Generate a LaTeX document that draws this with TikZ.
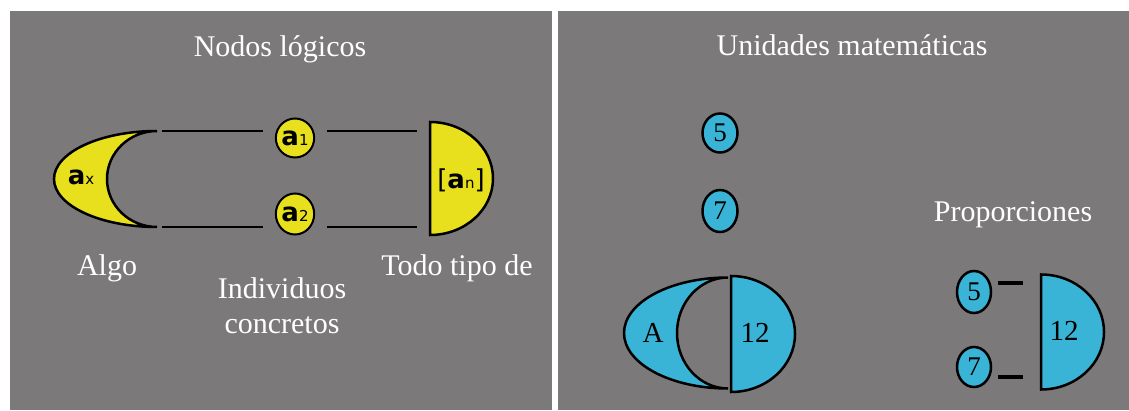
\documentclass[tikz,border=0pt]{standalone}
\usepackage{fontspec}
\setmainfont{Liberation Serif}
\newfontfamily\glyphfont{DejaVu Sans}
\usetikzlibrary{positioning,shapes.geometric}
\definecolor{Panel}{HTML}{7B797A}
\definecolor{Lemon}{HTML}{E8E01C}
\definecolor{Sky}{HTML}{3AB4D6}
\newcommand{\subidx}[1]{{\fontsize{15}{15}\selectfont\mdseries #1}}

\begin{document}
\begin{tikzpicture}[x=1pt,y=1pt,
    title/.style={text=white,font=\fontsize{30}{32}\selectfont,inner sep=0pt},
    glyph/.style={inner sep=0pt,font=\glyphfont\bfseries\fontsize{26}{26}\selectfont},
    logic/.style={glyph,draw,line width=2pt,fill=Lemon,ellipse,minimum width=34pt,minimum height=39pt},
    unit/.style={draw,line width=2.5pt,fill=Sky,ellipse,inner sep=0pt,minimum width=35pt,minimum height=40pt,font=\fontsize{27}{27}\selectfont},
    inlabel/.style={font=\fontsize{29}{29}\selectfont,inner sep=0pt},
    blob/.style={line width=2.5pt}]
  \useasboundingbox (0,0) rectangle (1129,410);
  \fill[white] (0,0) rectangle (1129,410);
  \fill[Panel] (10,0) rectangle (552,399);
  \fill[Panel] (558,0) rectangle (1129,399);

  % left panel
  \node[title,anchor=base] (nodos) at (280,353) {Nodos lógicos};
  \filldraw[blob,fill=Lemon] (157,279) arc[start angle=90,end angle=270,x radius=103,y radius=48]
    arc[start angle=270,end angle=90,x radius=50,y radius=48] -- cycle;
  \coordinate (axtop) at (157,279);
  \coordinate (axbot) at (157,183);
  \node[glyph] (ax) at (81,233) {a\subidx{x}};
  \node[logic] (a1) at (295,272) {a\subidx{1}};
  \node[logic,minimum height=41pt] (a2) at (295,196) {a\subidx{2}};
  \filldraw[blob,fill=Lemon] (430,288) arc[start angle=90,end angle=-90,x radius=63,y radius=56.5] -- cycle;
  \coordinate (antop) at (430,279);
  \coordinate (anbot) at (430,183);
  \node[glyph,font=\glyphfont\fontsize{26}{26}\selectfont] (an) at (461,230) {[\textbf{a}\subidx{n}]};
  \foreach \s/\n/\e in {axtop/a1/antop,axbot/a2/anbot}{
    \draw[line width=1.3pt,shorten <=5pt,shorten >=12pt] (\s) -- (\n.west |- \s);
    \draw[line width=1.3pt,shorten <=12pt,shorten >=13pt] (\n.east |- \s) -- (\e);
  }
  \node[title,anchor=base] (algo) at (107,135) {Algo};
  \node[title,anchor=base] (todo) at (457,135) {Todo tipo de};
  \node[title,anchor=base] (indiv) at (282,112) {Individuos};
  \node[title,anchor=base] (concr) at (282,77) {concretos};

  % right panel
  \node[title,anchor=base] (unidades) at (852,354) {Unidades matemáticas};
  \node[unit,minimum height=39pt] (u5) at (720,277) {5};
  \node[unit,minimum height=42pt] (u7) at (720,199) {7};
  \filldraw[blob,fill=Sky] (728,132.5) arc[start angle=90,end angle=270,x radius=104,y radius=55.5]
    arc[start angle=270,end angle=90,x radius=51,y radius=55.5] -- cycle;
  \node[inlabel] (uA) at (653,77) {A};
  \filldraw[blob,fill=Sky] (731,134) arc[start angle=90,end angle=-90,x radius=64,y radius=58] -- cycle;
  \node[inlabel] (u12) at (755,77) {12};

  \node[title,anchor=base] (prop) at (1013,189) {Proporciones};
  \node[unit,minimum width=34pt,minimum height=42pt] (p5) at (974,118) {5};
  \node[unit,minimum width=34pt,minimum height=40pt] (p7) at (974,43) {7};
  \filldraw[blob,fill=Sky] (1041,135.5) arc[start angle=90,end angle=-90,x radius=63,y radius=57.5] -- cycle;
  \node[inlabel] (p12) at (1064,79) {12};
  \coordinate (p12top) at (1041,127);
  \coordinate (p12bot) at (1041,33);
  \foreach \n/\e in {p5/p12top,p7/p12bot}{
    \draw[line width=3.5pt,shorten <=6pt,shorten >=18pt] (\n.east |- \e) -- (\e);
  }
\end{tikzpicture}
\end{document}
